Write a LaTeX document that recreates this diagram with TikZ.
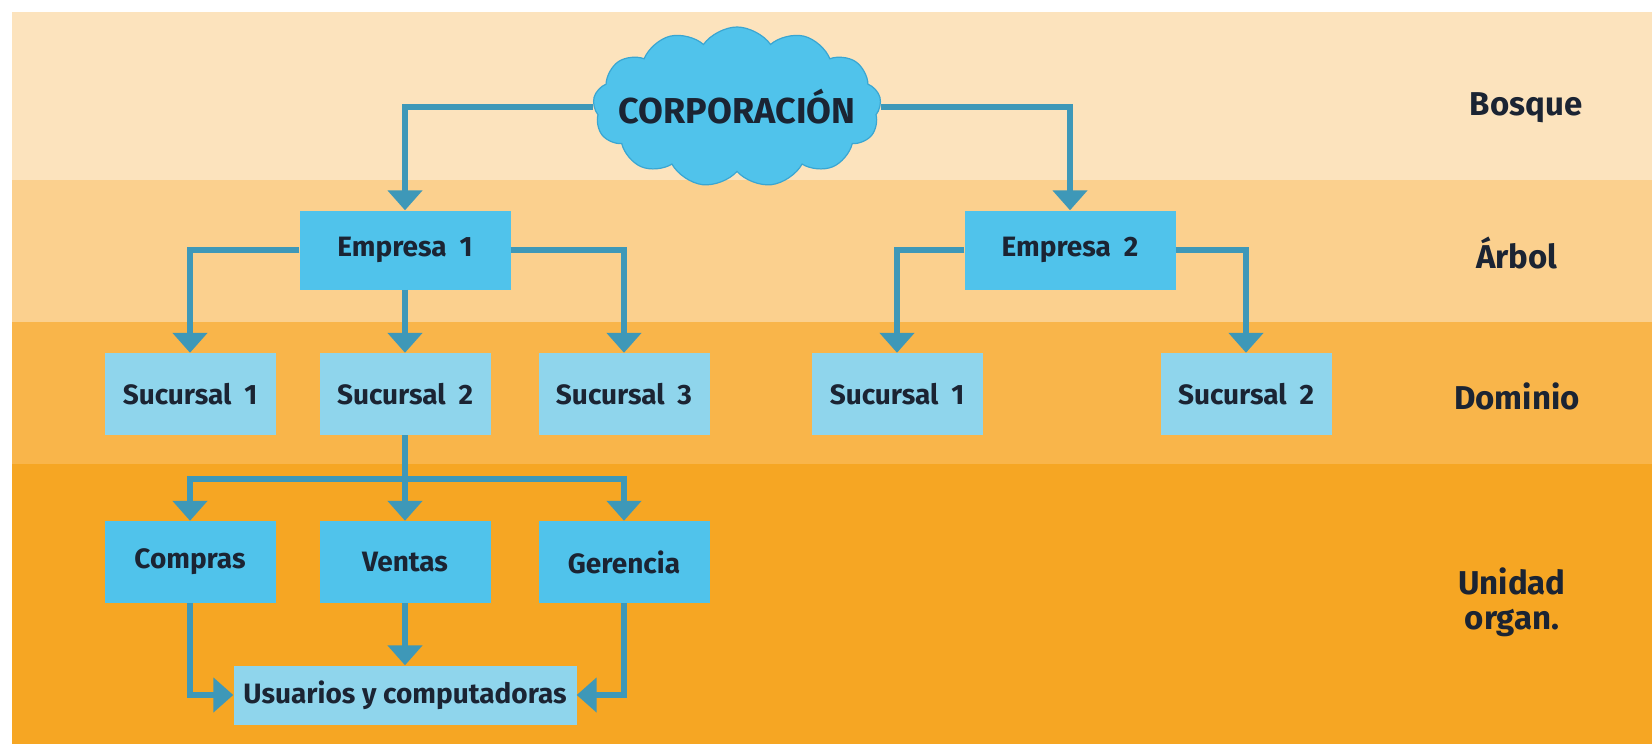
\documentclass[tikz,border=0pt]{standalone}
\usepackage{fontspec}
\setmainfont{Fira Sans}
\usetikzlibrary{shapes.symbols,arrows.meta}
\definecolor{bandA}{HTML}{FCE3BD}
\definecolor{bandB}{HTML}{FBD08E}
\definecolor{bandC}{HTML}{F9B54A}
\definecolor{bandD}{HTML}{F6A623}
\definecolor{boxdark}{HTML}{50C3EB}
\definecolor{boxlight}{HTML}{8FD5EC}
\definecolor{cloudedge}{HTML}{3AA6D2}
\definecolor{arrowc}{HTML}{3E98B8}
\definecolor{txt}{HTML}{1B2433}
\newcommand{\gap}{\hspace{0.22em}}
\begin{document}
\begin{tikzpicture}[x=1pt,y=-1pt,
  box/.style={inner sep=0pt, font=\fontsize{28}{30}\selectfont\bfseries, text=txt},
  darkbox/.style={box, fill=boxdark, minimum width=171pt, minimum height=82pt},
  lightbox/.style={box, fill=boxlight, minimum width=171pt, minimum height=82pt},
  lvl/.style={font=\fontsize{33}{35}\selectfont\bfseries, text=txt, align=center},
  link/.style={draw=arrowc, line width=6pt},
  arr/.style={link, -{Triangle[width=34pt,length=20pt]}},
]
\useasboundingbox (0,0) rectangle (1652,744);
\fill[white] (0,0) rectangle (1652,744);
% bands
\fill[bandA] (12,12) rectangle (1652,180);
\fill[bandB] (12,180) rectangle (1652,322);
\fill[bandC] (12,322) rectangle (1652,464);
\fill[bandD] (12,464) rectangle (1652,744);

% cloud
\node[cloud, cloud puffs=13, cloud puff arc=110, aspect=1.8, fill=boxdark, draw=cloudedge, line width=1.2pt,
      minimum width=288pt, minimum height=160pt, inner sep=0pt] (corp) at (737,107) {};
\node[font=\fontsize{36}{38}\selectfont\bfseries, text=txt, inner sep=0pt] (corpt) at (corp.center) {CORPORACIÓN};

% level 2
\node[box, fill=boxdark, minimum width=211pt, minimum height=79pt] (e1) at (405,250) {Empresa\gap{} 1};
\node[box, fill=boxdark, minimum width=211pt, minimum height=79pt] (e2) at (1070,250) {Empresa\gap{} 2};

% level 3
\node[lightbox] (s1) at (190,394) {Sucursal\gap{} 1};
\node[lightbox] (s2) at (405,394) {Sucursal\gap{} 2};
\node[lightbox] (s3) at (624,394) {Sucursal\gap{} 3};
\node[lightbox] (r1) at (897,394) {Sucursal\gap{} 1};
\node[lightbox] (r2) at (1246,394) {Sucursal\gap{} 2};

% level 4
\node[darkbox] (c1) at (190,562) {Compras};
\node[darkbox] (v1) at (405,562) {Ventas};
\node[darkbox] (g1) at (624,562) {Gerencia};
\node[box, fill=boxlight, minimum width=343pt, minimum height=59pt] (u1) at (405,695) {Usuarios y computadoras};

% level labels
\node[lvl] (lb) at (1526,108) {Bosque};
\node[lvl] (la) at (1517,253) {Árbol};
\node[lvl] (ld) at (1517,396) {Dominio};
\node[lvl] (lu) at (1512,602) {Unidad\\organ.};

% connectors
\draw[arr] (corp.west) -| (e1.north);
\draw[arr] (corp.east) -| (e2.north);
\draw[arr] (e1.west) -| (s1.north);
\draw[arr] (e1.south) -- (s2.north);
\draw[arr] (e1.east) -| (s3.north);
\draw[arr] (e2.west) -| (r1.north);
\draw[arr] (e2.east) -| (r2.north);

\coordinate (j) at (405,479);
\draw[link] (s2.south) -- (j);
\draw[arr] (j) -| (c1.north);
\draw[arr] (j) -- (v1.north);
\draw[arr] (j) -| (g1.north);

\draw[arr] (c1.south) |- (u1.west);
\draw[arr] (v1.south) -- (u1.north);
\draw[arr] (g1.south) |- (u1.east);
\end{tikzpicture}
\end{document}
